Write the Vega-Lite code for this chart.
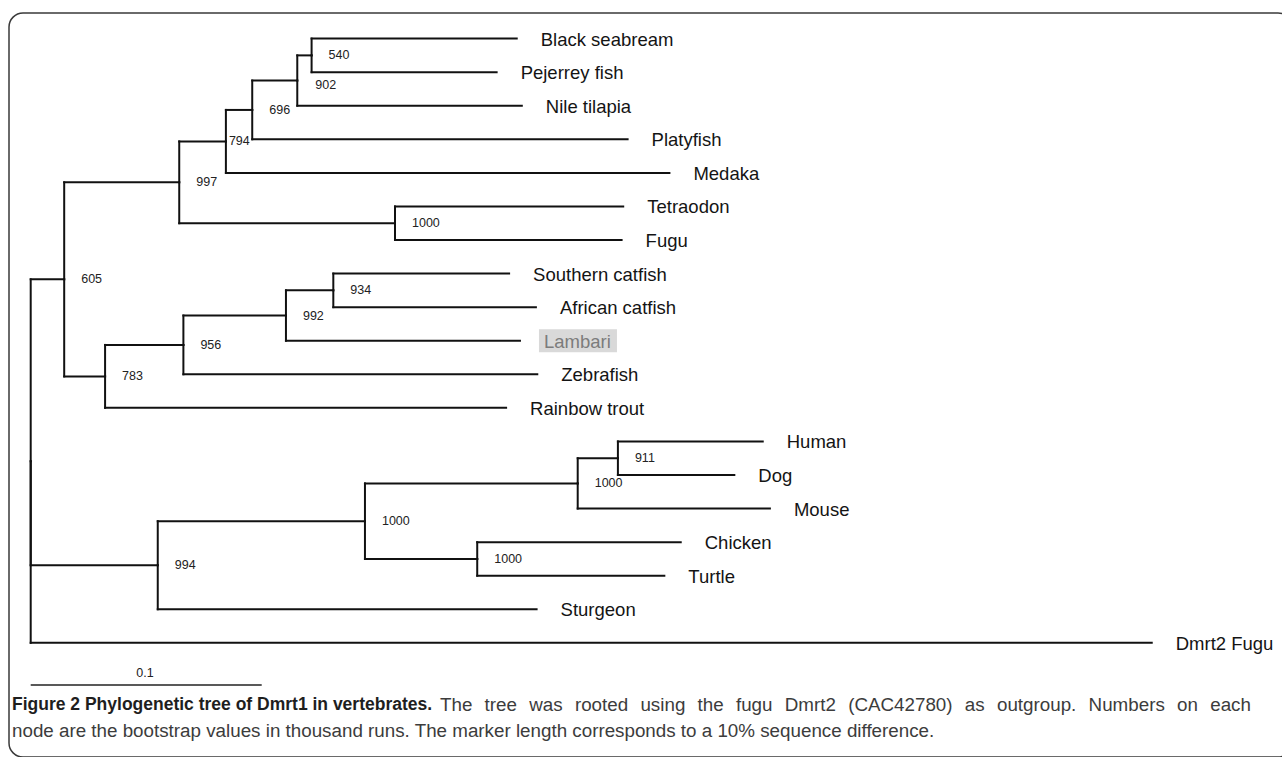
{
  "$schema": "https://vega.github.io/schema/vega-lite/v6.json",
  "width": 1283,
  "height": 744,
  "autosize": {"type": "none"},
  "padding": {"left": 9, "top": 13, "right": -10, "bottom": 0},
  "background": "white",
  "config": {
    "view": {"stroke": "#3a3a3a", "strokeWidth": 1.5, "cornerRadius": 14},
    "text": {"font": "Liberation Sans"}
  },
  "datasets": {
    "nodes": [
      {"id": "root", "parent": null, "x": 0, "y": 12.59},
      {"id": "A", "parent": "root", "x": 0.0145, "y": 7.1719, "boot": 605},
      {"id": "B", "parent": "A", "x": 0.0643, "y": 4.2813, "boot": 997},
      {"id": "C", "parent": "B", "x": 0.0845, "y": 3.0625, "boot": 794},
      {"id": "D", "parent": "C", "x": 0.0959, "y": 2.125, "boot": 696},
      {"id": "E", "parent": "D", "x": 0.1154, "y": 1.25, "boot": 902},
      {"id": "F", "parent": "E", "x": 0.1216, "y": 0.5, "boot": 540},
      {"id": "Black seabream", "parent": "F", "x": 0.2104, "y": 0, "label": "Black seabream"},
      {"id": "Pejerrey fish", "parent": "F", "x": 0.2017, "y": 1, "label": "Pejerrey fish"},
      {"id": "Nile tilapia", "parent": "E", "x": 0.2126, "y": 2, "label": "Nile tilapia"},
      {"id": "Platyfish", "parent": "D", "x": 0.2584, "y": 3, "label": "Platyfish"},
      {"id": "Medaka", "parent": "C", "x": 0.2765, "y": 4, "label": "Medaka"},
      {"id": "G", "parent": "B", "x": 0.1577, "y": 5.5, "boot": 1000},
      {"id": "Tetraodon", "parent": "G", "x": 0.2565, "y": 5, "label": "Tetraodon"},
      {"id": "Fugu", "parent": "G", "x": 0.2558, "y": 6, "label": "Fugu"},
      {"id": "H", "parent": "A", "x": 0.0322, "y": 10.0625, "boot": 783},
      {"id": "I", "parent": "H", "x": 0.0661, "y": 9.125, "boot": 956},
      {"id": "J", "parent": "I", "x": 0.1105, "y": 8.25, "boot": 992},
      {"id": "K", "parent": "J", "x": 0.131, "y": 7.5, "boot": 934},
      {"id": "Southern catfish", "parent": "K", "x": 0.2071, "y": 7, "label": "Southern catfish"},
      {"id": "African catfish", "parent": "K", "x": 0.2187, "y": 8, "label": "African catfish"},
      {"id": "Lambari", "parent": "J", "x": 0.2118, "y": 9, "label": "Lambari", "highlight": true},
      {"id": "Zebrafish", "parent": "I", "x": 0.2193, "y": 10, "label": "Zebrafish"},
      {"id": "Rainbow trout", "parent": "H", "x": 0.2058, "y": 11, "label": "Rainbow trout"},
      {"id": "L", "parent": "root", "x": 0.055, "y": 15.6875, "boot": 994},
      {"id": "M", "parent": "L", "x": 0.1447, "y": 14.375, "boot": 1000},
      {"id": "N", "parent": "M", "x": 0.2368, "y": 13.25, "boot": 1000},
      {"id": "O", "parent": "N", "x": 0.2542, "y": 12.5, "boot": 911},
      {"id": "Human", "parent": "O", "x": 0.3169, "y": 12, "label": "Human"},
      {"id": "Dog", "parent": "O", "x": 0.3046, "y": 13, "label": "Dog"},
      {"id": "Mouse", "parent": "N", "x": 0.32, "y": 14, "label": "Mouse"},
      {"id": "P", "parent": "M", "x": 0.1933, "y": 15.5, "boot": 1000},
      {"id": "Chicken", "parent": "P", "x": 0.2814, "y": 15, "label": "Chicken"},
      {"id": "Turtle", "parent": "P", "x": 0.2743, "y": 16, "label": "Turtle"},
      {"id": "Sturgeon", "parent": "L", "x": 0.219, "y": 17, "label": "Sturgeon"},
      {"id": "Dmrt2 Fugu", "parent": "root", "x": 0.4853, "y": 18, "label": "Dmrt2 Fugu"}
    ]
  },
  "layer": [
    {
      "data": {"name": "nodes"},
      "transform": [
        {"lookup": "parent", "from": {"data": {"name": "nodes"}, "key": "id", "fields": ["x", "y"]}, "as": ["px", "py"]},
        {"filter": "isValid(datum.px)"}
      ],
      "mark": {"type": "rule", "color": "#111111", "strokeWidth": 2, "strokeCap": "square"},
      "encoding": {
        "x": {"field": "px", "type": "quantitative", "axis": null, "scale": {"domain": [-0.009394, 0.546017], "nice": false, "zero": false}},
        "x2": {"field": "x"},
        "y": {"field": "y", "type": "quantitative", "axis": null, "scale": {"domain": [-0.7626, 21.4001], "nice": false, "zero": false, "reverse": true}}
      }
    },
    {
      "data": {"name": "nodes"},
      "transform": [
        {"lookup": "parent", "from": {"data": {"name": "nodes"}, "key": "id", "fields": ["x", "y"]}, "as": ["px", "py"]},
        {"filter": "isValid(datum.px)"}
      ],
      "mark": {"type": "rule", "color": "#111111", "strokeWidth": 2, "strokeCap": "square"},
      "encoding": {
        "x": {"field": "px", "type": "quantitative", "axis": null},
        "y": {"field": "py", "type": "quantitative", "axis": null},
        "y2": {"field": "y"}
      }
    },
    {
      "data": {"name": "nodes"},
      "transform": [{"filter": "datum.highlight === true"}],
      "mark": {"type": "rect", "color": "#d9d9d9", "xOffset": 19, "x2Offset": 97, "yOffset": -11.5, "y2Offset": 11.5},
      "encoding": {
        "x": {"field": "x", "type": "quantitative", "axis": null},
        "x2": {"field": "x"},
        "y": {"field": "y", "type": "quantitative", "axis": null},
        "y2": {"field": "y"}
      }
    },
    {
      "data": {"name": "nodes"},
      "transform": [{"filter": "isValid(datum.label)"}],
      "mark": {"type": "text", "align": "left", "baseline": "middle", "dx": 24, "dy": 1, "fontSize": 18.5},
      "encoding": {
        "x": {"field": "x", "type": "quantitative", "axis": null},
        "y": {"field": "y", "type": "quantitative", "axis": null},
        "text": {"field": "label"},
        "color": {"condition": {"test": "datum.highlight === true", "value": "#7c7c7c"}, "value": "#141414"}
      }
    },
    {
      "data": {"name": "nodes"},
      "transform": [{"filter": "isValid(datum.boot) && datum.id !== 'C' && datum.id !== 'E'"}],
      "mark": {"type": "text", "align": "left", "baseline": "middle", "dx": 17, "fontSize": 12.5, "color": "#222222"},
      "encoding": {
        "x": {"field": "x", "type": "quantitative", "axis": null},
        "y": {"field": "y", "type": "quantitative", "axis": null},
        "text": {"field": "boot"}
      }
    },
    {
      "data": {"name": "nodes"},
      "transform": [{"filter": "datum.id === 'C'"}],
      "mark": {"type": "text", "align": "left", "baseline": "middle", "dx": 3, "fontSize": 12.5, "color": "#222222"},
      "encoding": {
        "x": {"field": "x", "type": "quantitative", "axis": null},
        "y": {"field": "y", "type": "quantitative", "axis": null},
        "text": {"field": "boot"}
      }
    },
    {
      "data": {"name": "nodes"},
      "transform": [{"filter": "datum.id === 'E'"}],
      "mark": {"type": "text", "align": "left", "baseline": "middle", "dx": 18, "dy": 4, "fontSize": 12.5, "color": "#222222"},
      "encoding": {
        "x": {"field": "x", "type": "quantitative", "axis": null},
        "y": {"field": "y", "type": "quantitative", "axis": null},
        "text": {"field": "boot"}
      }
    },
    {
      "data": {"values": [{"start": 0, "end": 0.1, "length": "0.1"}]},
      "mark": {"type": "rule", "color": "#222222", "strokeWidth": 1.5},
      "encoding": {
        "x": {"field": "start", "type": "quantitative", "axis": null},
        "x2": {"field": "end"},
        "y": {"datum": 19.256, "type": "quantitative", "axis": null}
      }
    },
    {
      "data": {"values": [{"start": 0, "end": 0.1, "length": "0.1"}]},
      "mark": {"type": "text", "align": "center", "baseline": "middle", "fontSize": 12.5, "color": "#222222"},
      "encoding": {
        "x": {"datum": 0.0495, "type": "quantitative", "axis": null},
        "y": {"datum": 18.9, "type": "quantitative", "axis": null},
        "text": {"field": "length"}
      }
    },
    {
      "data": {"values": [{"text": "Figure 2 Phylogenetic tree of Dmrt1 in vertebrates."}]},
      "mark": {"type": "text", "align": "left", "baseline": "middle", "fontSize": 17.5, "fontWeight": "bold", "color": "#1e1e1e"},
      "encoding": {
        "x": {"datum": -0.0081, "type": "quantitative", "axis": null},
        "y": {"datum": 19.851, "type": "quantitative", "axis": null},
        "text": {"field": "text"}
      }
    },
    {"data": {"values": [{"w": "The"}]}, "mark": {"type": "text", "align": "left", "baseline": "middle", "fontSize": 18.8, "color": "#3c3c3c"}, "encoding": {"x": {"datum": 0.17719, "type": "quantitative", "axis": null}, "y": {"datum": 19.851, "type": "quantitative", "axis": null}, "text": {"field": "w"}}},
    {"data": {"values": [{"w": "tree"}]}, "mark": {"type": "text", "align": "left", "baseline": "middle", "fontSize": 18.8, "color": "#3c3c3c"}, "encoding": {"x": {"datum": 0.1965, "type": "quantitative", "axis": null}, "y": {"datum": 19.851, "type": "quantitative", "axis": null}, "text": {"field": "w"}}},
    {"data": {"values": [{"w": "was"}]}, "mark": {"type": "text", "align": "left", "baseline": "middle", "fontSize": 18.8, "color": "#3c3c3c"}, "encoding": {"x": {"datum": 0.21582, "type": "quantitative", "axis": null}, "y": {"datum": 19.851, "type": "quantitative", "axis": null}, "text": {"field": "w"}}},
    {"data": {"values": [{"w": "rooted"}]}, "mark": {"type": "text", "align": "left", "baseline": "middle", "fontSize": 18.8, "color": "#3c3c3c"}, "encoding": {"x": {"datum": 0.23558, "type": "quantitative", "axis": null}, "y": {"datum": 19.851, "type": "quantitative", "axis": null}, "text": {"field": "w"}}},
    {"data": {"values": [{"w": "using"}]}, "mark": {"type": "text", "align": "left", "baseline": "middle", "fontSize": 18.8, "color": "#3c3c3c"}, "encoding": {"x": {"datum": 0.26395, "type": "quantitative", "axis": null}, "y": {"datum": 19.851, "type": "quantitative", "axis": null}, "text": {"field": "w"}}},
    {"data": {"values": [{"w": "the"}]}, "mark": {"type": "text", "align": "left", "baseline": "middle", "fontSize": 18.8, "color": "#3c3c3c"}, "encoding": {"x": {"datum": 0.2887, "type": "quantitative", "axis": null}, "y": {"datum": 19.851, "type": "quantitative", "axis": null}, "text": {"field": "w"}}},
    {"data": {"values": [{"w": "fugu"}]}, "mark": {"type": "text", "align": "left", "baseline": "middle", "fontSize": 18.8, "color": "#3c3c3c"}, "encoding": {"x": {"datum": 0.3053, "type": "quantitative", "axis": null}, "y": {"datum": 19.851, "type": "quantitative", "axis": null}, "text": {"field": "w"}}},
    {"data": {"values": [{"w": "Dmrt2"}]}, "mark": {"type": "text", "align": "left", "baseline": "middle", "fontSize": 18.8, "color": "#3c3c3c"}, "encoding": {"x": {"datum": 0.32643, "type": "quantitative", "axis": null}, "y": {"datum": 19.851, "type": "quantitative", "axis": null}, "text": {"field": "w"}}},
    {"data": {"values": [{"w": "(CAC42780)"}]}, "mark": {"type": "text", "align": "left", "baseline": "middle", "fontSize": 18.8, "color": "#3c3c3c"}, "encoding": {"x": {"datum": 0.35388, "type": "quantitative", "axis": null}, "y": {"datum": 19.851, "type": "quantitative", "axis": null}, "text": {"field": "w"}}},
    {"data": {"values": [{"w": "as"}]}, "mark": {"type": "text", "align": "left", "baseline": "middle", "fontSize": 18.8, "color": "#3c3c3c"}, "encoding": {"x": {"datum": 0.4044, "type": "quantitative", "axis": null}, "y": {"datum": 19.851, "type": "quantitative", "axis": null}, "text": {"field": "w"}}},
    {"data": {"values": [{"w": "outgroup."}]}, "mark": {"type": "text", "align": "left", "baseline": "middle", "fontSize": 18.8, "color": "#3c3c3c"}, "encoding": {"x": {"datum": 0.41829, "type": "quantitative", "axis": null}, "y": {"datum": 19.851, "type": "quantitative", "axis": null}, "text": {"field": "w"}}},
    {"data": {"values": [{"w": "Numbers"}]}, "mark": {"type": "text", "align": "left", "baseline": "middle", "fontSize": 18.8, "color": "#3c3c3c"}, "encoding": {"x": {"datum": 0.45797, "type": "quantitative", "axis": null}, "y": {"datum": 19.851, "type": "quantitative", "axis": null}, "text": {"field": "w"}}},
    {"data": {"values": [{"w": "on"}]}, "mark": {"type": "text", "align": "left", "baseline": "middle", "fontSize": 18.8, "color": "#3c3c3c"}, "encoding": {"x": {"datum": 0.49627, "type": "quantitative", "axis": null}, "y": {"datum": 19.851, "type": "quantitative", "axis": null}, "text": {"field": "w"}}},
    {"data": {"values": [{"w": "each"}]}, "mark": {"type": "text", "align": "left", "baseline": "middle", "fontSize": 18.8, "color": "#3c3c3c"}, "encoding": {"x": {"datum": 0.51061, "type": "quantitative", "axis": null}, "y": {"datum": 19.851, "type": "quantitative", "axis": null}, "text": {"field": "w"}}},
    {
      "data": {"values": [{"text": "node are the bootstrap values in thousand runs. The marker length corresponds to a 10% sequence difference."}]},
      "mark": {"type": "text", "align": "left", "baseline": "middle", "fontSize": 18.8, "color": "#3c3c3c"},
      "encoding": {
        "x": {"datum": -0.0081, "type": "quantitative", "axis": null},
        "y": {"datum": 20.63, "type": "quantitative", "axis": null},
        "text": {"field": "text"}
      }
    }
  ]
}
